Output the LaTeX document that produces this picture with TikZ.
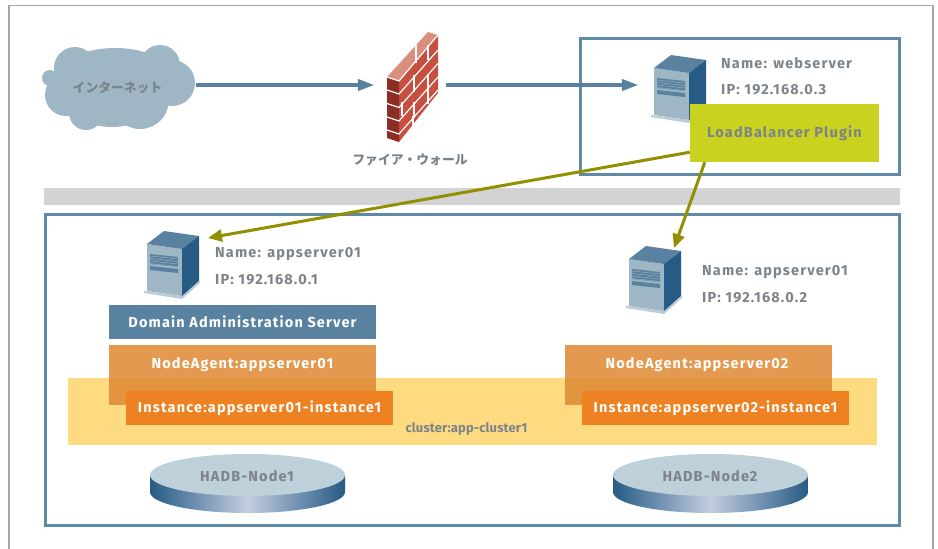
\documentclass[tikz,border=0pt]{standalone}
\usepackage{fontspec}
\setmainfont{Fira Sans}[LetterSpace=8]
\newfontfamily\jpfont{Noto Sans CJK JP}
\newfontfamily\clusterfont{Fira Sans}[LetterSpace=1]
\usepackage{xcolor}
\usetikzlibrary{arrows.meta,positioning,calc}

\definecolor{frameblue}{HTML}{5F8AA6}
\definecolor{serverblue}{HTML}{58829F}
\definecolor{serverdark}{HTML}{265B85}
\definecolor{serverpale}{HTML}{9FB6C4}
\definecolor{labelgray}{HTML}{7C8389}
\definecolor{bandgray}{HTML}{D1D3D4}
\definecolor{lbgreen}{HTML}{C9D21F}
\definecolor{lineolive}{HTML}{928F00}
\definecolor{agentorange}{HTML}{DF8A35}
\definecolor{instorange}{HTML}{EE8121}
\definecolor{clusteryellow}{HTML}{FEDB80}
\definecolor{diskpale}{HTML}{BED0DA}
\definecolor{diskmid}{HTML}{C3CDDF}
\definecolor{brickred}{HTML}{C64F40}
\definecolor{brickdark}{HTML}{8A2E26}
\definecolor{bricktop}{HTML}{D98F7D}

\begin{document}
\begin{tikzpicture}[
    x=1pt, y=-1pt,
    info/.style={anchor=west, inner sep=0pt, font=\bfseries\fontsize{14.5}{16}\selectfont, text=labelgray},
    title/.style={inner sep=0pt, font=\bfseries\fontsize{14.5}{16}\selectfont, text=labelgray},
    jplabel/.style={inner sep=0pt, font=\jpfont\bfseries\fontsize{12.8}{15}\selectfont, text=labelgray},
    dasbox/.style={fill=serverblue, minimum width=267pt, minimum height=34pt, inner sep=0pt, text=white, font=\bfseries\fontsize{14.5}{16}\selectfont},
    agentbox/.style={fill=agentorange, fill opacity=0.87, text opacity=1, minimum width=267pt, minimum height=60pt, inner sep=0pt},
    instbox/.style={fill=instorange, minimum width=267pt, minimum height=34pt, inner sep=0pt, text=white, font=\bfseries\fontsize{14.5}{16}\selectfont},
    agenttext/.style={text=white, inner sep=0pt, font=\bfseries\fontsize{14.5}{16}\selectfont},
    anchorbox/.style={minimum width=#1, minimum height=20pt, inner sep=0pt},
    netarrow/.style={-{Triangle[length=17pt,width=11pt]}, line width=4pt, serverblue},
    lbarrow/.style={-{Triangle[length=14pt,width=12pt]}, line width=3pt, lineolive},
    areabox/.style={draw=frameblue, line width=3pt},
    server/.pic={
        \fill[serverpale!70!white] (-3,47) -- (35,52) -- (53,37) -- (53,39) -- (35,55) -- (-3,49) -- cycle;
        \fill[serverpale] (0,0) -- (35,5) -- (35,52) -- (0,47) -- cycle;
        \fill[serverblue] (0,0) -- (17,-13) -- (52,-8) -- (35,5) -- cycle;
        \fill[serverdark] (35,5) -- (52,-8) -- (52,37) -- (35,52) -- cycle;
        \fill[serverblue] (3,10) -- (31,13) -- (31,23) -- (3,20) -- cycle;
        \fill[serverblue] (3,22) -- (31,25) -- (31,29) -- (3,26) -- cycle;
        \foreach \y in {12,14.5,17,19.5}
            \draw[serverpale, line width=0.4pt] (3,\y) -- (31,\y+3);
    },
    disk/.pic={
        \shade[left color=serverdark, right color=serverdark, middle color=diskmid]
            (-97.5,0) -- (-97.5,17) .. controls (-97.5,28.6) and (-53.9,38) .. (0,38)
            .. controls (53.9,38) and (97.5,28.6) .. (97.5,17) -- (97.5,0) -- cycle;
        \fill[diskpale] (0,0) ellipse [x radius=97.5, y radius=21];
    }
]
    \useasboundingbox (0,0) rectangle (938,549);

    % Outer frame
    \draw[black!35, line width=1.2pt] (9,549) -- (9,5.5) -- (933,5.5) -- (933,549);

    % Cloud
    \fill[serverpale] (50,78) circle [radius=8] (75,68) circle [radius=21] (160,65) circle [radius=20]
        (172,83) circle [radius=23] (66,95) circle [radius=21] (86,113) circle [radius=17]
        (140,100) circle [radius=29] (115,82) ellipse [x radius=62, y radius=34]
        (112,106) ellipse [x radius=40, y radius=21];
    \node[jplabel, minimum width=156pt] (inet) at (117.5,88) {インターネット};

    % Firewall
    \fill[bricktop] (387,77) -- (428,32) -- (438,35) -- (399,81) -- cycle;
    \fill[brickred] (399,81) -- (438,35) -- (438,93) -- (399,142) -- cycle;
    \fill[brickdark] (387,77) -- (399,81) -- (399,142) -- (387,138) -- cycle;
    \foreach \y in {0,13.5,27,40,53}
        \draw[white, line width=1.2pt] (387,90+\y-13) ++(0,13) -- ++(12,4) -- ++(39,-44);
    \draw[white, line width=1.2pt] (387,77) -- (399,81) -- (438,35);
    \draw[white, line width=1.2pt] (416,45) -- (416,63) (428,45) -- (428,60) (414,75) -- (414,92)
        (428,74) -- (428,88) (402,102) -- (402,116) (414,102) -- (414,118) (428,88) -- (428,104) (413,116) -- (413,132);
    \node[anchorbox=71pt] (fw) at (410.5,85) {};
    \node[jplabel] (fwlabel) at (410,160) {ファイア・ウォール};

    % Areas
    \fill[bandgray] (44,188) rectangle (900,205);
    \draw[areabox] (580.5,38.5) rectangle (899,174);
    \draw[areabox] (45.5,214.5) rectangle (899,525);
    \fill[clusteryellow] (68,378) rectangle (877,445);

    % Servers
    \pic at (654,68) {server};
    \pic at (147,244) {server};
    \pic at (629,259) {server};
    \node[anchorbox=36pt] (web) at (657,85) {};
    \coordinate (app1in) at (208,238);
    \coordinate (app2in) at (674,248);

    % Server labels
    \node[info] (webname) at (721,63) {Name: webserver};
    \node[info, below=27pt of webname.west, anchor=west] (webip) {IP: 192.168.0.3};
    \node[info] (app1name) at (215,254) {Name: appserver01};
    \node[info, below=26pt of app1name.west, anchor=west] (app1ip) {IP: 192.168.0.1};
    \node[info] (app2name) at (702,272) {Name: appserver01};
    \node[info, below=26pt of app2name.west, anchor=west] (app2ip) {IP: 192.168.0.2};

    % Load balancer
    \node[fill=lbgreen, minimum width=189pt, minimum height=58pt, inner sep=0pt, title] (lb) at (784.5,133) {LoadBalancer Plugin};
    \coordinate (lbleft) at ($(lb.south west)+(0,-10)$);
    \coordinate (lbdown) at ($(lb.south west)+(15,0)$);

    % Flow arrows
    \draw[netarrow] (inet.east |- fw.west) -- (fw.west);
    \draw[netarrow] (fw.east) -- (web.west);
    \draw[lbarrow] (lbleft) -- (app1in);
    \draw[lbarrow] (lbdown) -- (app2in);

    % Left host
    \node[dasbox] (das) at (242.5,322) {Domain Administration Server};
    \node[agentbox] (agent1) at (242.5,375) {};
    \node[agenttext] (agent1text) at (242.5,365) {NodeAgent:appserver01};
    \node[instbox] (inst1) at (259.5,408) {Instance:appserver01-instance1};

    % Right host
    \node[agentbox] (agent2) at (698.5,375) {};
    \node[agenttext] (agent2text) at (697,365) {NodeAgent:appserver02};
    \node[instbox] (inst2) at (715.5,408) {Instance:appserver02-instance1};

    \node[title, font=\clusterfont\bfseries\fontsize{13}{15}\selectfont] (cluster) at (466.5,429) {cluster:app-cluster1};

    % Disks
    \pic at (247.5,475) {disk};
    \pic at (710.5,475) {disk};
    \node[title] (hadb1) at (247,476) {HADB-Node1};
    \node[title] (hadb2) at (710,476) {HADB-Node2};
\end{tikzpicture}
\end{document}
